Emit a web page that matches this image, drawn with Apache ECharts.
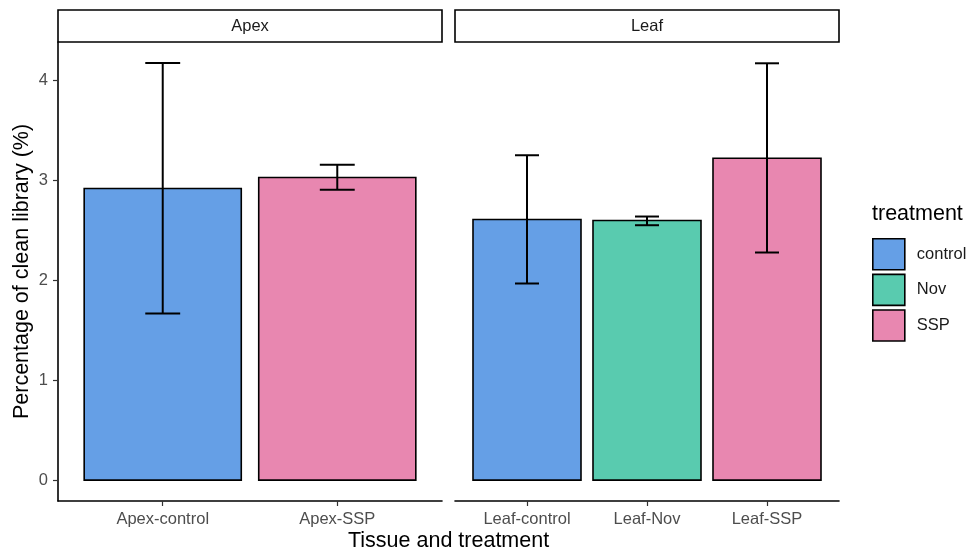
<!DOCTYPE html>
<html>
<head>
<meta charset="utf-8">
<script src="https://cdn.jsdelivr.net/npm/echarts@6/dist/echarts.min.js"></script>
<style>
  html, body { margin: 0; padding: 0; background: #fff; }
  #main { width: 971px; height: 551px; }
</style>
</head>
<body>
<div id="main"></div>
<script>
// data (mean and error bar ends)
const tissues = ['Apex', 'Leaf'];
const treatments = ['control', 'Nov', 'SSP'];
const treatColors = ['#659FE6', '#59CBAF', '#E887B0'];

const apexLabels = ['Apex-control', 'Apex-SSP'];
const apexTreat = ['control', 'SSP'];
const apexMean = [2.917, 3.027];
const apexLow = [1.667, 2.904];
const apexHigh = [4.174, 3.154];

const leafLabels = ['Leaf-control', 'Leaf-Nov', 'Leaf-SSP'];
const leafTreat = ['control', 'Nov', 'SSP'];
const leafMean = [2.607, 2.597, 3.22];
const leafLow = [1.967, 2.55, 2.277];
const leafHigh = [3.25, 2.637, 4.17];

const yTicks = [0, 1, 2, 3, 4];

const FONT = "'Liberation Sans', Arial, sans-serif";
const SMALL = 16.5;   // tick labels, strips, legend keys
const BIG = 21.5;     // titles

// bar + error bar drawn in data units
function renderBar(params, api) {
  const x = api.value(0), m = api.value(1), lo = api.value(2), hi = api.value(3);
  const a = api.coord([x - 0.45, m]);
  const b = api.coord([x + 0.45, 0]);
  const top = api.coord([x, hi]);
  const bot = api.coord([x, lo]);
  const capL = api.coord([x - 0.1, hi])[0];
  const capR = api.coord([x + 0.1, hi])[0];
  const ls = { stroke: '#000', lineWidth: 2 };
  return {
    type: 'group',
    children: [
      { type: 'rect', shape: { x: a[0], y: a[1], width: b[0] - a[0], height: b[1] - a[1] },
        style: { fill: api.visual('color'), stroke: '#000', lineWidth: 1.6 } },
      { type: 'line', shape: { x1: top[0], y1: top[1], x2: bot[0], y2: bot[1] }, style: ls },
      { type: 'line', shape: { x1: capL, y1: top[1], x2: capR, y2: top[1] }, style: ls },
      { type: 'line', shape: { x1: capL, y1: bot[1], x2: capR, y2: bot[1] }, style: ls }
    ]
  };
}

function makeSeries(gridIdx, treat, mean, low, high) {
  return treat.map((t, i) => ({
    type: 'custom',
    name: t,
    xAxisIndex: gridIdx,
    yAxisIndex: gridIdx,
    itemStyle: { color: treatColors[treatments.indexOf(t)] },
    renderItem: renderBar,
    encode: { x: 0, y: 1 },
    data: [[i + 1, mean[i], low[i], high[i]]]
  }));
}

function xAxisFor(gridIdx, labels) {
  const vals = labels.map((_, i) => i + 1);
  return {
    type: 'value',
    gridIndex: gridIdx,
    min: 0.4,
    max: labels.length + 0.6,
    splitLine: { show: false },
    axisLine: { show: true, onZero: false, lineStyle: { color: '#000', width: 1.6 } },
    axisTick: { show: true, length: 5, customValues: vals, lineStyle: { color: '#333', width: 1.2 } },
    axisLabel: {
      customValues: vals,
      margin: 10,
      color: '#4d4d4d',
      fontSize: SMALL,
      fontFamily: FONT,
      formatter: v => labels[Math.round(v) - 1]
    }
  };
}

function yAxisFor(gridIdx, show) {
  return {
    type: 'value',
    gridIndex: gridIdx,
    min: -0.209,
    max: 4.383,
    splitLine: { show: false },
    axisLine: { show: show, lineStyle: { color: '#000', width: 1.6 } },
    axisTick: { show: show, length: 5, customValues: yTicks, lineStyle: { color: '#333', width: 1.2 } },
    axisLabel: { show: show, customValues: yTicks, margin: 10, color: '#4d4d4d', fontSize: SMALL, fontFamily: FONT },
    name: show ? 'Percentage of clean library (%)' : '',
    nameLocation: 'middle',
    nameGap: 25,
    nameTextStyle: { fontSize: BIG, color: '#000', fontFamily: FONT }
  };
}

const panels = [
  { left: 58, width: 384 },
  { left: 455, width: 384 }
];

let myChart = echarts.init(document.getElementById('main'));
let options = {
  animation: false,
  grid: panels.map(p => ({ left: p.left, width: p.width, top: 42, height: 459 })),
  xAxis: [xAxisFor(0, apexLabels), xAxisFor(1, leafLabels)],
  yAxis: [yAxisFor(0, true), yAxisFor(1, false)],
  legend: {
    data: treatments,
    orient: 'vertical',
    left: 872,
    top: 238,
    padding: 0,
    itemWidth: 32,
    itemHeight: 31,
    itemGap: 3,
    icon: 'rect',
    itemStyle: { borderColor: '#000', borderWidth: 1.6 },
    textStyle: { fontSize: SMALL, color: '#1a1a1a', fontFamily: FONT, padding: [0, 0, 0, 7] },
    selectedMode: false
  },
  graphic: [
    ...tissues.map((t, i) => ({
      type: 'rect',
      shape: { x: panels[i].left, y: 10, width: panels[i].width, height: 32 },
      style: { fill: '#fff', stroke: '#000', lineWidth: 1.6 },
      textContent: { style: { text: t, fontSize: SMALL, fill: '#1a1a1a', fontFamily: FONT } },
      textConfig: { position: 'inside' }
    })),
    {
      type: 'text', left: 348, top: 530,
      style: { text: 'Tissue and treatment', fontSize: BIG, fill: '#000', fontFamily: FONT }
    },
    {
      type: 'text', left: 872, top: 203,
      style: { text: 'treatment', fontSize: BIG, fill: '#000', fontFamily: FONT }
    }
  ],
  series: [
    ...makeSeries(0, apexTreat, apexMean, apexLow, apexHigh),
    ...makeSeries(1, leafTreat, leafMean, leafLow, leafHigh)
  ]
};
myChart.setOption(options);
</script>
</body>
</html>
